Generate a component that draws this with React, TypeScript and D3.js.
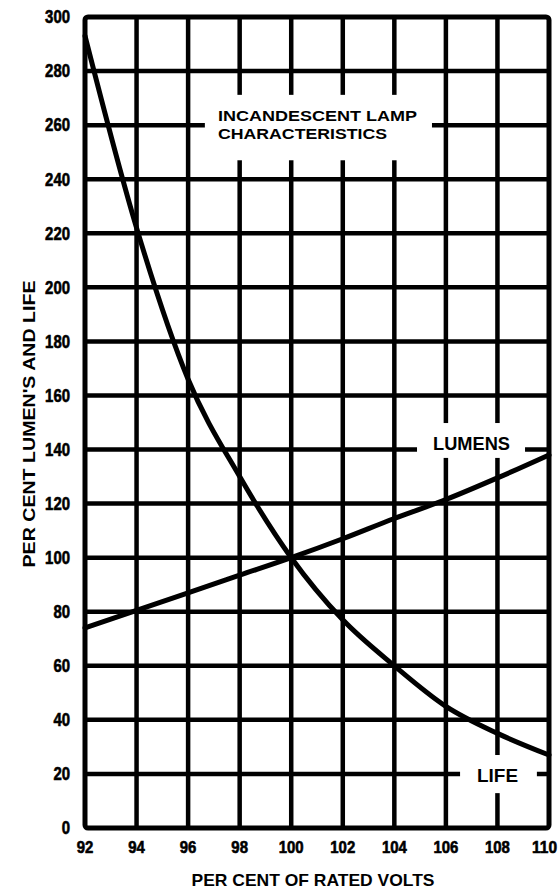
import React from "react";
import * as d3 from "d3";

const volts = [92, 94, 96, 98, 100, 102, 104, 106, 108, 110];
const lumens = [74, 80.5, 87, 93.5, 100, 107, 114.5, 121.5, 129.5, 138];
const life = [293, 222, 166, 130, 100, 77, 60, 45, 35, 27];
const xTicks = [92, 94, 96, 98, 100, 102, 104, 106, 108, 110];
const yTicks = [0, 20, 40, 60, 80, 100, 120, 140, 160, 180, 200, 220, 240, 260, 280, 300];

const W = 559;
const H = 891;

export default function App() {
  const x = d3.scaleLinear().domain([92, 110]).range([85, 549]);
  const y = d3.scaleLinear().domain([0, 300]).range([828, 17]);
  const line = d3
    .line<number>()
    .x((_, i) => x(volts[i]))
    .y((d) => y(d))
    .curve(d3.curveMonotoneX);

  const numFont = "'Liberation Sans', Arial, sans-serif";
  const txtFont = "'Liberation Sans', Arial, sans-serif";
  const digitW = 8.3;

  // white label boxes (in data coords)
  const boxes = [
    { x0: 96.65, x1: 105.46, y0: 247, y1: 271.2 },
    { x0: 104.88, x1: 109.07, y0: 136.9, y1: 149.8 },
    { x0: 106.55, x1: 109.53, y0: 12.9, y1: 27 },
  ];

  return (
    <svg
      width={W}
      height={H}
      style={{ position: "absolute", left: 0, top: 0, background: "#fff" }}
    >
      <rect x={0} y={0} width={W} height={H} fill="#fff" />
      {/* grid */}
      <g stroke="#000" strokeWidth={4.5}>
        {xTicks.slice(1, -1).map((t) => (
          <line key={"v" + t} x1={x(t)} x2={x(t)} y1={y(300)} y2={y(0)} />
        ))}
        {yTicks.slice(1, -1).map((t) => (
          <line key={"h" + t} x1={x(92)} x2={x(110)} y1={y(t)} y2={y(t)} />
        ))}
      </g>
      {boxes.map((b, i) => (
        <rect
          key={"b" + i}
          x={x(b.x0)}
          y={y(b.y1)}
          width={x(b.x1) - x(b.x0)}
          height={y(b.y0) - y(b.y1)}
          fill="#fff"
        />
      ))}
      <rect
        x={x(92)}
        y={y(300)}
        width={x(110) - x(92)}
        height={y(0) - y(300)}
        fill="none"
        stroke="#000"
        strokeWidth={5}
        rx={3}
      />
      {/* curves */}
      <path d={line(lumens) || ""} fill="none" stroke="#000" strokeWidth={5} strokeLinecap="round" />
      <path d={line(life) || ""} fill="none" stroke="#000" strokeWidth={5} strokeLinecap="round" />

      {/* y tick labels */}
      <g fontFamily={numFont} fontWeight="900" fontSize={17.5} textAnchor="end" fill="#000" stroke="#000" strokeWidth={0.6}>
        {yTicks.map((t) => (
          <text
            key={"yl" + t}
            x={70}
            y={y(t)}
            dy="0.36em"
            textLength={String(t).length * digitW}
            lengthAdjust="spacingAndGlyphs"
          >
            {t}
          </text>
        ))}
      </g>
      {/* x tick labels */}
      <g fontFamily={numFont} fontWeight="900" fontSize={16.5} textAnchor="middle" fill="#000" stroke="#000" strokeWidth={0.6}>
        {xTicks.map((t) => (
          <text
            key={"xl" + t}
            x={Math.min(x(t), 557 - (String(t).length * digitW) / 2)}
            y={853}
            textLength={String(t).length * digitW}
            lengthAdjust="spacingAndGlyphs"
          >
            {t}
          </text>
        ))}
      </g>

      {/* axis titles */}
      <text
        x={313}
        y={886}
        textAnchor="middle"
        fontFamily={txtFont}
        fontWeight="bold"
        fontSize={16.5}
        textLength={243}
        lengthAdjust="spacingAndGlyphs"
      >
        PER CENT OF RATED VOLTS
      </text>
      <text
        transform="translate(35,424) rotate(-90)"
        textAnchor="middle"
        fontFamily={txtFont}
        fontWeight="bold"
        fontSize={17}
        textLength={287}
        lengthAdjust="spacingAndGlyphs"
      >
        PER CENT LUMEN'S AND LIFE
      </text>

      {/* annotations */}
      <g fontFamily={txtFont} fontWeight="bold" fill="#000">
        <text x={218} y={121} fontSize={15.5} textLength={199} lengthAdjust="spacingAndGlyphs">
          INCANDESCENT LAMP
        </text>
        <text x={218} y={139} fontSize={15.5} textLength={169} lengthAdjust="spacingAndGlyphs">
          CHARACTERISTICS
        </text>
        <text x={433} y={450} fontSize={18} textLength={77} lengthAdjust="spacingAndGlyphs">
          LUMENS
        </text>
        <text x={477} y={782} fontSize={18} textLength={41} lengthAdjust="spacingAndGlyphs">
          LIFE
        </text>
      </g>
    </svg>
  );
}
